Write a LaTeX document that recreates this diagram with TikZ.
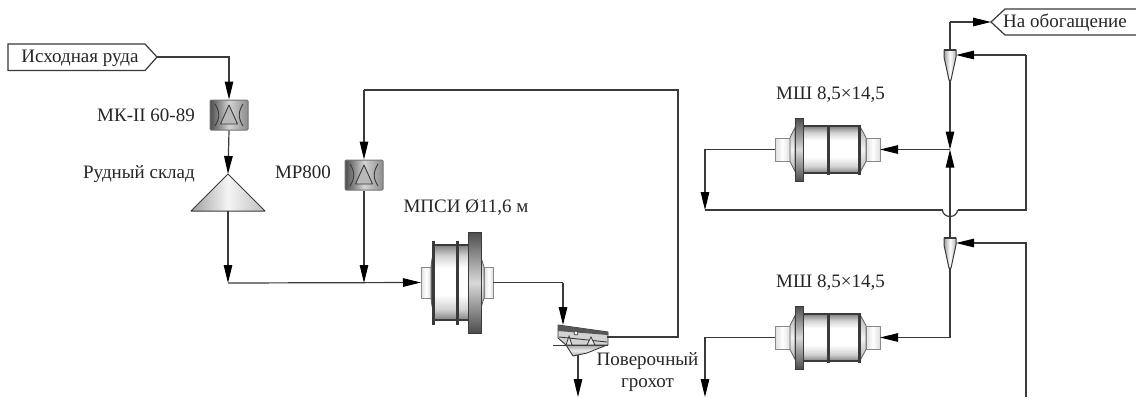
\documentclass[tikz,border=0pt]{standalone}
\usepackage{fontspec}
\setmainfont{Liberation Serif}
\usetikzlibrary{arrows.meta}
\definecolor{ink}{HTML}{3A3A3A}
\pgfdeclareverticalshading{millbody}{100bp}{
  color(0bp)=(black!50); color(25bp)=(black!50); color(32bp)=(black!18); color(42bp)=(white);
  color(60bp)=(white); color(68bp)=(black!18); color(75bp)=(black!50); color(100bp)=(black!50)}
\tikzset{
  x=1pt,y=-1pt,
  flow/.style={draw=ink,line width=1.2pt,line join=miter},
  tipped/.style={flow,-{Triangle[length=18pt,width=8.5pt,color=black]}},
  lab/.style={text=black!85,font=\fontsize{19}{22}\selectfont,inner sep=0pt,align=center},
  edge/.style={draw=ink,line width=1.2pt},
  stub/.style={draw=ink!60,line width=1pt,left color=gray!25,right color=gray!25,middle color=white},
  bodyshade/.style={shading=millbody},
  railline/.style={draw=ink,line width=1.1pt},
  ringbar/.style={fill=ink},
  chamfer/.style={draw=ink!80,line width=.8pt,top color=gray!60,bottom color=gray!60,middle color=gray!10},
  darkshade/.style={draw=ink,line width=.8pt,top color=black!70,bottom color=black!70,middle color=gray!30},
  crusherbox/.style={draw=ink!70,line width=1pt,rounded corners=1pt,minimum width=38pt,minimum height=30pt,inner sep=0pt,left color=black!70,right color=black!45,middle color=gray!35},
  pics/shmill/.style={code={
    \coordinate (-l) at (0,0);
    \coordinate (-r) at (105,0);
    \path[stub] (0,-11.5) rectangle (15,11.5);
    \path[stub] (91,-11.5) rectangle (105,11.5);
    \path[chamfer] (15,-12) -- (20,-22) -- (20,22) -- (15,12) -- cycle;
    \path[chamfer] (85,-23) -- (91,-12) -- (91,12) -- (85,23) -- cycle;
    \path[bodyshade] (28,-23.5) rectangle (83,23.5);
    \draw[railline] (28,-23.5) -- (83,-23.5) (28,23.5) -- (83,23.5);
    \fill[ringbar] (83,-25) rectangle (85.5,25);
    \fill[ringbar] (52,-25) rectangle (54.5,25);
    \path[darkshade] (20,-31.5) rectangle (28,31.5);
  }},
  pics/psimill/.style={code={
    \coordinate (-l) at (0,0);
    \coordinate (-r) at (72,0);
    \path[stub] (0,-15.5) rectangle (10,15.5);
    \path[stub] (63,-15.5) rectangle (72,15.5);
    \path[chamfer] (10,-15.5) -- (11,-24) -- (11,24) -- (10,15.5) -- cycle;
    \path[chamfer] (60,-25) -- (63,-15.5) -- (63,15.5) -- (60,25) -- cycle;
    \path[bodyshade] (13,-37.5) rectangle (47,37.5);
    \draw[railline] (13,-37.5) -- (47,-37.5) (13,37.5) -- (47,37.5);
    \fill[ringbar] (11,-42) rectangle (13.5,42);
    \fill[ringbar] (35,-42) rectangle (38,42);
    \path[darkshade] (47,-50.5) rectangle (60,50.5);
  }},
  pics/crushmark/.style={code={
    \draw[ink,line width=.9pt,line join=round,fill=gray!55] (0,-10) -- (-8.5,9) -- (8.5,9) -- cycle;
    \draw[ink,line width=.9pt] (-14,-11) .. controls (-9,-3) and (-9,3) .. (-14,11);
    \draw[ink,line width=.9pt] (14,-11) .. controls (9,-3) and (9,3) .. (14,11);
  }},
  pics/hydrocyclone/.style={code={
    \coordinate (-t) at (0,0);
    \coordinate (-b) at (0,30);
    \coordinate (-f) at (6,5);
    \draw[ink,line width=1pt,left color=gray!75,right color=gray!60,middle color=white] (-6,0) -- (6,0) -- (6,7) -- (1,30) -- (-1,30) -- (-6,7) -- cycle;
    \draw[ink,line width=1.6pt] (-6,0) -- (6,0);
  }}
}
\begin{document}
\begin{tikzpicture}
\useasboundingbox (0,0) rectangle (1136,397);
\fill[white] (0,0) rectangle (1136,397);

% feed tag
\draw[edge,fill=white] (8,44) -- (145,44) -- (157,57) -- (145,70.5) -- (8,70.5) -- cycle;
\node[lab] (feedtxt) at (80,58) {Исходная руда};
\coordinate (feedtip) at (157,57);

% crushers
\node[crusherbox] (cr1) at (229,115) {};
\pic at (cr1.center) {crushmark};
\node[crusherbox] (cr2) at (364,175) {};
\pic at (cr2.center) {crushmark};
\node[lab] (cr1txt) at (146,115) {МК-II 60-89};
\node[lab] (cr2txt) at (303,172) {МР800};

% stockpile
\draw[ink,line width=1pt,line join=round,left color=gray!75,right color=gray!50,middle color=gray!8] (228,174) -- (265,211) -- (191,211) -- cycle;
\coordinate (stocktop) at (228,174);
\coordinate (stockbase) at (228,211);
\node[lab] (stocktxt) at (139,174) {Рудный склад};

% SAG mill
\pic (sag) at (421,282.5) {psimill};
\node[lab] (sagtxt) at (466,208) {МПСИ Ø11,6 м};

% screen
\draw[ink,line width=.9pt,top color=gray!70,bottom color=gray!70,middle color=gray!15,line join=round]
  (566,345) -- (573,356) -- (587,353) -- (607,345) -- cycle;
\draw[ink,line width=.9pt,fill=gray!35,line join=round]
  (558,325) -- (608,332) -- (608,345) -- (566,345) -- (558,338) -- cycle;
\fill[ink!85] (558,325) -- (608,332) -- (608,335) -- (558,331) -- cycle;
\draw[ink,line width=.9pt] (559,337) -- (607,342);
\draw[ink,line width=.8pt] (553,345.5) -- (608,345.5);
\draw[ink,line width=.7pt,fill=white] (576,333) circle (2pt);
\draw[ink,line width=.8pt,fill=gray!20] (566,345) -- (569,336) -- (572,345) -- cycle;
\draw[ink,line width=.8pt,fill=gray!20] (587,345) -- (591,337) -- (595,345) -- cycle;
\coordinate (scrin) at (563,325);
\coordinate (scrout) at (607,337);
\coordinate (scrdown) at (578,355);
\coordinate (scrend) at (578,397);
\node[lab] (scrtxt) at (647.5,372) {Поверочный\\грохот};

% ball mills
\pic (m1) at (775,149.5) {shmill};
\pic (m2) at (775,337.5) {shmill};
\node[lab] (m1txt) at (830.5,95) {МШ 8,5×14,5};
\node[lab] (m2txt) at (830.5,283) {МШ 8,5×14,5};

% hydrocyclones
\pic (c1) at (950,50) {hydrocyclone};
\pic (c2) at (950,238) {hydrocyclone};

% product tag
\draw[edge,fill=white] (1136,9) -- (1005,9) -- (991,22) -- (1005,35) -- (1136,35);
\node[lab] (prodtxt) at (1065,22.5) {На обогащение};
\coordinate (prodtip) at (991,22);

% helper points
\coordinate (j1) at (950,149.5);
\coordinate (merge) at (228,283);
\coordinate (fresh) at (364,283);
\coordinate (rc1) at (678,337);
\coordinate (rc2) at (678,90);
\coordinate (rc3) at (364,90);
\coordinate (hopL) at (705,210);
\coordinate (hopR) at (1026,210);
\coordinate (hopU) at (705,149.5);
\coordinate (jumpR) at (957.5,210);
\coordinate (jumpL) at (942.5,210);
\coordinate (cf1) at (1026,55);
\coordinate (cf2) at (1026,243);
\coordinate (cf2end) at (1026,397);
\coordinate (m2L) at (705,337.5);
\coordinate (m2end) at (705,397);
\coordinate (prodL) at (950,22);
\coordinate (scrup) at (563,282.5);

% connectors
\draw[tipped] (feedtip) -| (cr1.north);
\draw[tipped] (cr1.south) -- (stocktop);
\draw[tipped] (stockbase) -- (merge);
\draw[tipped] (merge) -- (sag-l);
\draw[tipped] (cr2.south) -- (fresh);
\draw[flow] (sag-r) -- (scrup);
\draw[tipped] (scrup) -- (scrin);
\draw[tipped] (scrdown) -- (scrend);
\draw[flow] (scrout) -- (rc1) -- (rc2) -- (rc3);
\draw[tipped] (rc3) -- (cr2.north);
\draw[tipped] (j1) -- (m1-r);
\draw[tipped] (c1-b) -- (j1);
\draw[tipped] (c2-t) -- (j1);
\draw[tipped] (prodL) -- (prodtip);
\draw[flow] (c1-t) -- (prodL);
\draw[tipped] (cf1) -- (c1-f);
\draw[flow] (cf1) -- (hopR) -- (jumpR);
\draw[flow] (jumpR) arc[start angle=0,end angle=180,x radius=7.5,y radius=6.5];
\draw[flow] (jumpL) -- (hopL);
\draw[tipped] (m1-l) -- (hopU) -- (hopL);
\draw[tipped] (c2-b) |- (m2-r);
\draw[tipped] (m2-l) -- (m2L) -- (m2end);
\draw[tipped] (cf2end) -- (cf2) -- (c2-f);
\end{tikzpicture}
\end{document}
